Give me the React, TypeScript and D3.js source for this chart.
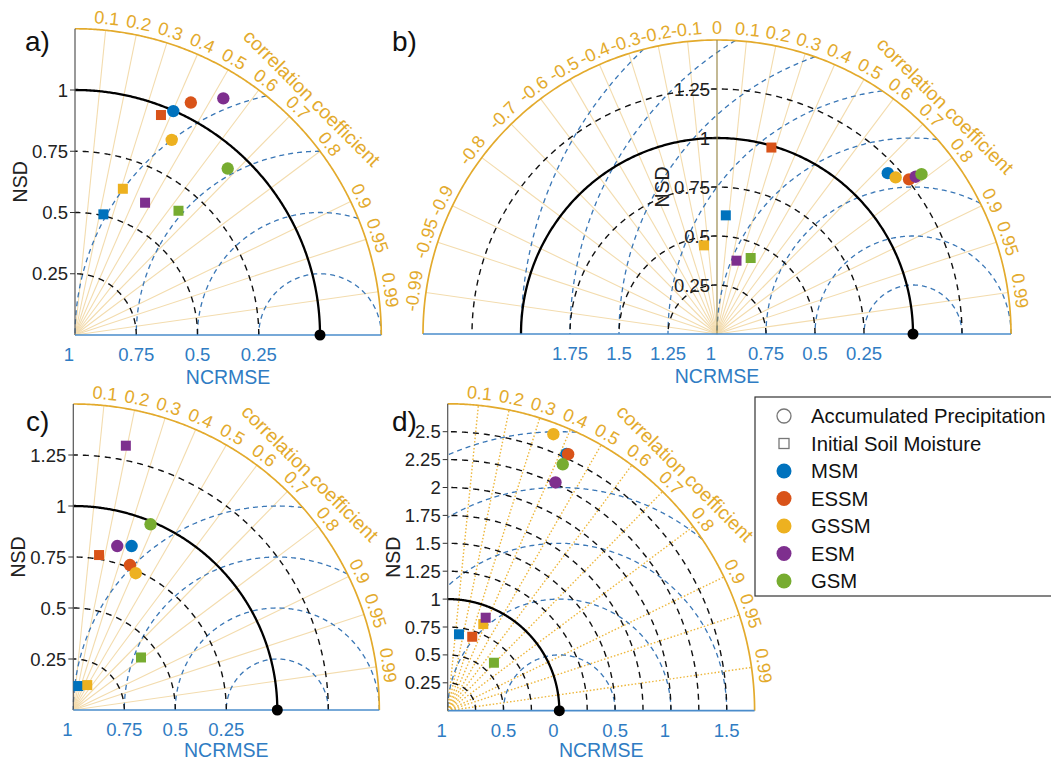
import React from 'react';
import * as d3 from 'd3';

// ---------- data ----------
const models = ['MSM', 'ESSM', 'GSSM', 'ESM', 'GSM'];
const modelColors = ['#0072BD', '#D95319', '#EDB120', '#7E2F8E', '#77AC30'];
const markerLabels = ['Accumulated Precipitation', 'Initial Soil Moisture'];

const corrTicksPos = [0.1, 0.2, 0.3, 0.4, 0.5, 0.6, 0.7, 0.8, 0.9, 0.95, 0.99];
const corrTicksAll = [-0.99, -0.95, -0.9, -0.8, -0.7, -0.6, -0.5, -0.4, -0.3, -0.2, -0.1, 0,
  0.1, 0.2, 0.3, 0.4, 0.5, 0.6, 0.7, 0.8, 0.9, 0.95, 0.99];

// panel a
const nsdTicksA = [0.25, 0.5, 0.75, 1];
const nsdArcsA = [0.25, 0.5, 0.75];
const rmsArcsA = [0.25, 0.5, 0.75, 1];
const ncLeftA = [1, 0.75, 0.5, 0.25];
const ncRightA: number[] = [];
const precipNsdA = [0.998, 1.060, 0.889, 1.140, 0.922];
const precipCorA = [0.402, 0.446, 0.444, 0.531, 0.676];
const soilNsdA = [0.506, 0.964, 0.628, 0.611, 0.660];
const soilCorA = [0.229, 0.364, 0.311, 0.468, 0.640];

// panel b
const nsdTicksB = [0.25, 0.5, 0.75, 1, 1.25];
const nsdArcsB = [0.25, 0.5, 0.75, 1.25];
const rmsArcsB = [0.25, 0.5, 0.75, 1, 1.25, 1.5, 1.75, 2];
const ncLeftB = [1.75, 1.5, 1.25, 1, 0.75, 0.5, 0.25];
const ncRightB: number[] = [];
const precipNsdB = [1.197, 1.258, 1.212, 1.293, 1.324];
const precipCorB = [0.728, 0.779, 0.752, 0.784, 0.788];
const soilNsdB = [0.607, 0.991, 0.457, 0.387, 0.424];
const soilCorB = [0.074, 0.280, -0.144, 0.257, 0.405];

// panel c
const nsdTicksC = [0.25, 0.5, 0.75, 1, 1.25];
const nsdArcsC = [0.25, 0.5, 0.75, 1.25];
const rmsArcsC = [0.25, 0.5, 0.75, 1];
const ncLeftC = [1, 0.75, 0.5, 0.25];
const ncRightC: number[] = [];
const precipNsdC = [0.853, 0.763, 0.737, 0.832, 0.986];
const precipCorC = [0.335, 0.364, 0.415, 0.259, 0.384];
const soilNsdC = [0.120, 0.770, 0.140, 1.321, 0.420];
const soilCorC = [0.204, 0.164, 0.489, 0.195, 0.790];

// panel d
const nsdTicksD = [0.25, 0.5, 0.75, 1, 1.25, 1.5, 1.75, 2, 2.25, 2.5];
const nsdArcsD = [0.25, 0.5, 0.75, 1.25, 1.5, 1.75, 2, 2.25, 2.5];
const rmsArcsD = [0.5, 1, 1.5, 2, 2.5];
const ncLeftD = [1, 0.5];
const ncRightD = [0, 0.5, 1, 1.5];
const precipNsdD = [2.535, 2.539, 2.652, 2.262, 2.437];
const precipCorD = [0.420, 0.425, 0.357, 0.427, 0.423];
const soilNsdD = [0.692, 0.698, 0.839, 0.900, 0.597];
const soilCorD = [0.146, 0.315, 0.380, 0.378, 0.694];

// ---------- layout ----------
const FONT = '"Liberation Sans", Arial, sans-serif';
const ORANGE = '#E3AA2C';
const CORR_LINE = '#F3DCAE';
const BLUE_ARC = '#3A77B6';
const BLUE_TXT = '#2F7CC3';

type Layout = { ox: number; oy: number; unit: number; max: number; full: boolean; letter: string; lx: number; ly: number; dotted: boolean; titleDy: number };

const layoutA: Layout = { ox: 75, oy: 335, unit: 245, max: 1.25, full: false, letter: 'a)', lx: 25, ly: 51, dotted: false, titleDy: 49 };
const layoutB: Layout = { ox: 717, oy: 334, unit: 196, max: 1.5, full: true, letter: 'b)', lx: 392, ly: 51, dotted: false, titleDy: 49 };
const layoutC: Layout = { ox: 73.3, oy: 710, unit: 204, max: 1.5, full: false, letter: 'c)', lx: 26, ly: 431, dotted: false, titleDy: 47 };
const layoutD: Layout = { ox: 447.7, oy: 710.7, unit: 111.6, max: 2.75, full: false, letter: 'd)', lx: 392, ly: 431, dotted: true, titleDy: 46 };

type P = {
  L: Layout; nsdTicks: number[]; nsdArcs: number[]; rmsArcs: number[]; ncLeft: number[]; ncRight: number[];
  corrTicks: number[]; precipNsd: number[]; precipCor: number[]; soilNsd: number[]; soilCor: number[];
};

function Taylor({ L, nsdTicks, nsdArcs, rmsArcs, ncLeft, ncRight, corrTicks, precipNsd, precipCor, soilNsd, soilCor }: P) {
  const R = L.max * L.unit;
  const x = d3.scaleLinear().domain([0, 1]).range([L.ox, L.ox + L.unit]);
  const y = d3.scaleLinear().domain([0, 1]).range([L.oy, L.oy - L.unit]);
  const line = d3.line<[number, number]>().x(d => x(d[0])).y(d => y(d[1]));
  const thMax = L.full ? Math.PI : Math.PI / 2;
  const xMin = L.full ? -L.max : 0;

  const nsdArc = (r: number) =>
    line(d3.range(0, 301).map(i => {
      const t = (thMax * i) / 300;
      return [r * Math.cos(t), r * Math.sin(t)] as [number, number];
    }));

  const rmsArc = (r: number) => {
    const cmax = (L.max * L.max - 1 - r * r) / (2 * r);
    const phiMin = Math.acos(Math.max(-1, Math.min(1, cmax)));
    const phiMax = L.full ? Math.PI : Math.acos(Math.max(-1, Math.min(1, -1 / r)));
    if (phiMin >= phiMax) return null;
    return line(d3.range(0, 301).map(i => {
      const p = phiMin + ((phiMax - phiMin) * i) / 300;
      return [1 + r * Math.cos(p), r * Math.sin(p)] as [number, number];
    }));
  };

  const pt = (nsd: number, c: number) => {
    const t = Math.acos(c);
    return [x(nsd * Math.cos(t)), y(nsd * Math.sin(t))];
  };

  return (
    <g>
      {corrTicks.map((c, i) => {
        const t = Math.acos(c);
        if (L.full && c === 0) return null;
        return (
          <line key={'cl' + i} x1={x(0)} y1={y(0)} x2={x(L.max * Math.cos(t))} y2={y(L.max * Math.sin(t))}
            stroke={L.dotted ? '#EDB63A' : CORR_LINE} strokeWidth={L.dotted ? 1.4 : 1.1}
            strokeDasharray={L.dotted ? '1.5,2' : undefined} />
        );
      })}
      {rmsArcs.map((r, i) => {
        const d = rmsArc(r);
        return d ? <path key={'rm' + i} d={d} fill="none" stroke={BLUE_ARC} strokeWidth={1.3} strokeDasharray="5,4" /> : null;
      })}
      {nsdArcs.map((r, i) => (
        <path key={'ns' + i} d={nsdArc(r) || ''} fill="none" stroke="#111" strokeWidth={1.4} strokeDasharray="6,5" />
      ))}
      <path d={nsdArc(1) || ''} fill="none" stroke="#000" strokeWidth={2.3} />
      <path d={nsdArc(L.max) || ''} fill="none" stroke={ORANGE} strokeWidth={1.7} />
      <line x1={x(0)} y1={y(0)} x2={x(0)} y2={y(L.max)} stroke={L.full ? '#9C8A4E' : '#555'} strokeWidth={1.2} />
      <line x1={x(xMin)} y1={y(0)} x2={x(L.max)} y2={y(0)} stroke="#4A8CCB" strokeWidth={1.7} />
      {corrTicks.map((c, i) => {
        const t = Math.acos(c);
        const rr = R + 12;
        const px = L.ox + rr * Math.cos(t);
        const py = L.oy - rr * Math.sin(t);
        const rot = 90 - (t * 180) / Math.PI;
        return (
          <text key={'ct' + i} x={px} y={py} fill={ORANGE} fontSize={18} fontFamily={FONT}
            textAnchor="middle" dominantBaseline="central" transform={`rotate(${rot},${px},${py})`}>
            {String(c)}
          </text>
        );
      })}
      {(() => {
        const t = Math.PI / 4;
        const rr = R + 29;
        const px = L.ox + rr * Math.cos(t);
        const py = L.oy - rr * Math.sin(t);
        return (
          <text x={px} y={py} fill={ORANGE} fontSize={19.5} fontFamily={FONT} textAnchor="middle"
            dominantBaseline="central" transform={`rotate(45,${px},${py})`}>correlation coefficient</text>
        );
      })()}
      {nsdTicks.map((v, i) => (
        <g key={'nt' + i}>
          <line x1={x(0) - 5} x2={x(0)} y1={y(v)} y2={y(v)} stroke="#333" strokeWidth={1} />
          <text x={x(0) - 7} y={y(v)} fontSize={18.5} fontFamily={FONT} fill="#222" textAnchor="end"
            dominantBaseline="central">{String(v)}</text>
        </g>
      ))}
      <text x={x(0) - 55} y={y(L.max / 2)} fontSize={19.5} fontFamily={FONT} fill="#222" textAnchor="middle"
        dominantBaseline="central" transform={`rotate(-90,${x(0) - 55},${y(L.max / 2)})`}>NSD</text>
      {ncLeft.map((v, i) => {
        const s = String(v);
        return (
          <text key={'nl' + i} x={x(1 - v) + (s.includes('.') ? 0 : -6)} y={y(0) + 26} fontSize={18.5} fontFamily={FONT}
            fill={BLUE_TXT} textAnchor="middle">{s}</text>
        );
      })}
      {ncRight.map((v, i) => {
        const s = String(v);
        return (
          <text key={'nr' + i} x={x(1 + v) + (s.includes('.') ? 0 : -6)} y={y(0) + 26} fontSize={18.5} fontFamily={FONT}
            fill={BLUE_TXT} textAnchor="middle">{s}</text>
        );
      })}
      <text x={L.full ? x(0) : x(L.max / 2)} y={y(0) + L.titleDy} fontSize={19.5} fontFamily={FONT} fill={BLUE_TXT}
        textAnchor="middle">NCRMSE</text>
      <circle cx={x(1)} cy={y(0)} r={5.5} fill="#000" />
      {soilNsd.map((n, i) => {
        const [px, py] = pt(n, soilCor[i]);
        return <rect key={'sq' + i} x={px - 5} y={py - 5} width={10} height={10} fill={modelColors[i]} />;
      })}
      {precipNsd.map((n, i) => {
        const [px, py] = pt(n, precipCor[i]);
        return <circle key={'ci' + i} cx={px} cy={py} r={6.2} fill={modelColors[i]} />;
      })}
      <text x={L.lx} y={L.ly} fontSize={28} fontFamily={FONT} fill="#111">{L.letter}</text>
    </g>
  );
}

function Legend() {
  const x0 = 755;
  const y0 = 397;
  const rowY = (i: number) => 416 + i * 27.5;
  return (
    <g>
      <rect x={x0} y={y0} width={320} height={199} fill="#fff" stroke="#333" strokeWidth={1.2} />
      <circle cx={784} cy={rowY(0)} r={7} fill="#fff" stroke="#777" strokeWidth={1.3} />
      <rect x={779} y={rowY(1) - 5} width={10} height={10} fill="#fff" stroke="#777" strokeWidth={1.3} />
      {markerLabels.map((m, i) => (
        <text key={'ml' + i} x={811} y={rowY(i)} fontSize={20.3} fontFamily={FONT} fill="#111" dominantBaseline="central">{m}</text>
      ))}
      {models.map((m, i) => (
        <g key={'lg' + i}>
          <circle cx={784} cy={rowY(i + 2)} r={7.5} fill={modelColors[i]} />
          <text x={811} y={rowY(i + 2)} fontSize={20.3} fontFamily={FONT} fill="#111" dominantBaseline="central">{m}</text>
        </g>
      ))}
    </g>
  );
}

export default function App() {
  return (
    <svg width={1051} height={762} viewBox="0 0 1051 762"
      style={{ position: 'absolute', left: 0, top: 0, background: '#fff', display: 'block' }}>
      <rect x={0} y={0} width={1051} height={762} fill="#fff" />
      <Taylor L={layoutA} nsdTicks={nsdTicksA} nsdArcs={nsdArcsA} rmsArcs={rmsArcsA} ncLeft={ncLeftA} ncRight={ncRightA}
        corrTicks={corrTicksPos} precipNsd={precipNsdA} precipCor={precipCorA} soilNsd={soilNsdA} soilCor={soilCorA} />
      <Taylor L={layoutB} nsdTicks={nsdTicksB} nsdArcs={nsdArcsB} rmsArcs={rmsArcsB} ncLeft={ncLeftB} ncRight={ncRightB}
        corrTicks={corrTicksAll} precipNsd={precipNsdB} precipCor={precipCorB} soilNsd={soilNsdB} soilCor={soilCorB} />
      <Taylor L={layoutC} nsdTicks={nsdTicksC} nsdArcs={nsdArcsC} rmsArcs={rmsArcsC} ncLeft={ncLeftC} ncRight={ncRightC}
        corrTicks={corrTicksPos} precipNsd={precipNsdC} precipCor={precipCorC} soilNsd={soilNsdC} soilCor={soilCorC} />
      <Taylor L={layoutD} nsdTicks={nsdTicksD} nsdArcs={nsdArcsD} rmsArcs={rmsArcsD} ncLeft={ncLeftD} ncRight={ncRightD}
        corrTicks={corrTicksPos} precipNsd={precipNsdD} precipCor={precipCorD} soilNsd={soilNsdD} soilCor={soilCorD} />
      <Legend />
    </svg>
  );
}
